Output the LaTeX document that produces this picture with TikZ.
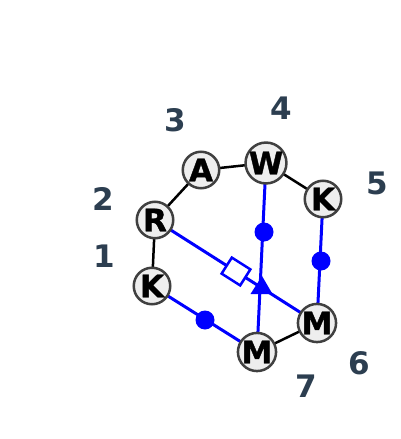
\documentclass[tikz,border=0pt]{standalone}
\usepackage{fontspec}
\setmainfont{DejaVu Sans}
\newfontfamily\heavyfont[FakeBold=1.2]{DejaVu Sans Bold}
\usetikzlibrary{backgrounds}
\definecolor{labcol}{HTML}{2C3E50}
\definecolor{nodefill}{HTML}{EEEEEE}
\definecolor{nodeedge}{HTML}{404040}
\begin{document}
\begin{tikzpicture}[x=1pt,y=-1pt,
  vnode/.style={circle,draw=nodeedge,fill=nodefill,line width=2.5pt,minimum size=36.5pt,inner sep=0pt,font=\fontsize{31}{31}\heavyfont},
  numlab/.style={text=labcol,font=\fontsize{31}{31}\selectfont\bfseries,inner sep=0pt},
  blk/.style={draw=black,line width=2.5pt},
  blu/.style={draw=blue,line width=3pt},
  bdot/.style={circle,fill=blue,minimum size=19pt,inner sep=0pt},
  bsq/.style={rectangle,draw=blue,fill=white,line width=2.5pt,minimum width=22pt,minimum height=19pt,inner sep=0pt,sloped}
]
\useasboundingbox (0,0) rectangle (400,439);
\node[vnode] (R) at (155,220) {R};
\node[vnode] (A) at (201,170) {A};
\node[vnode] (W) at (266,163) {W};
\node[vnode] (K1) at (323,199) {K};
\node[vnode] (M1) at (317,323) {M};
\node[vnode] (M2) at (257,352) {M};
\node[vnode] (K2) at (152,286) {K};
\begin{scope}[on background layer]
  \draw[blk] (R.center) -- (A.center);
  \draw[blk] (A.center) -- (W.center);
  \draw[blk] (W.center) -- (K1.center);
  \draw[blk] (K2.center) -- (R.center);
  \draw[blk] (M2.center) -- (M1.center);
  \draw[blu] (K1.center) -- (M1.center);
  \draw[blu] (K2.center) -- (M2.center);
  \draw[blu] (W.center) -- (M2.center);
  \draw[blu] (R.center) -- (M1.center);
\end{scope}
\node[bdot] (d1) at (264,232) {};
\node[bdot] (d2) at (321,261) {};
\node[bdot] (d3) at (205,320) {};
\path (R.center) -- (M1.center) node[bsq,pos=0.5] (sq) {};
\fill[blue] (262,276) -- (272.5,294) -- (250.5,294) -- cycle;
\node[numlab] (l1) at (104,256) {1};
\node[numlab] (l2) at (103,199) {2};
\node[numlab] (l3) at (175,120) {3};
\node[numlab] (l4) at (281,108) {4};
\node[numlab] (l5) at (377,183) {5};
\node[numlab] (l6) at (359,363) {6};
\node[numlab] (l7) at (306,386) {7};
\end{tikzpicture}
\end{document}
